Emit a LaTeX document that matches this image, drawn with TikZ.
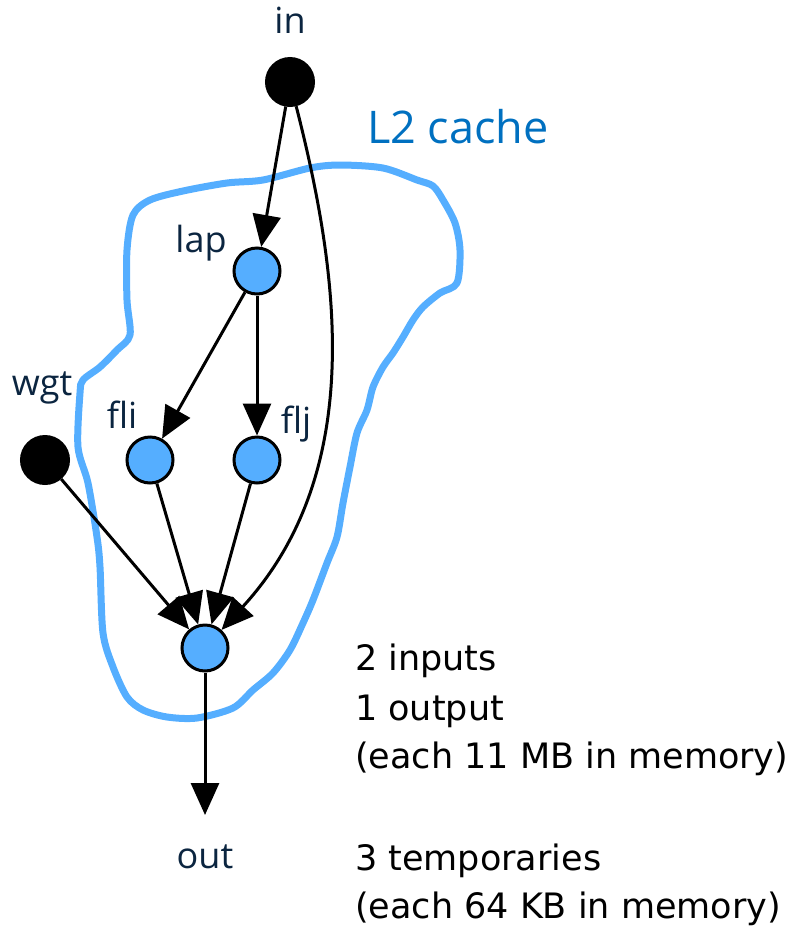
\documentclass[tikz,border=0pt]{standalone}
\usepackage{fontspec}
\setmainfont{Open Sans}
\newfontfamily\notefont{DejaVu Sans}
\usetikzlibrary{arrows.meta}
\definecolor{cacheblue}{HTML}{55AEFF}
\definecolor{nodeblue}{HTML}{55AEFF}
\definecolor{labelblue}{HTML}{0070C0}
\definecolor{navy}{HTML}{0B2540}
\tikzset{
  blacknode/.style={circle, fill=black, draw=black, line width=2pt, minimum size=48pt, inner sep=0pt},
  bluenode/.style={circle, fill=nodeblue, draw=black, line width=3pt, minimum size=46pt, inner sep=0pt},
  lbl/.style={text=navy, font=\fontsize{36}{43}\selectfont, anchor=base, inner sep=0pt},
  note/.style={text=black, font=\notefont\fontsize{35}{42}\selectfont, anchor=base west, inner sep=0pt},
  edge/.style={draw=black, line width=3pt, -{Triangle[length=32pt,width=28pt]}},
  cache/.style={draw=cacheblue, line width=7pt, line join=round}
}
\begin{document}
\begin{tikzpicture}[x=1pt,y=-1pt]
\useasboundingbox (0,0) rectangle (804,930);
% cache outline
\draw[cache] plot[smooth cycle, tension=0.5] coordinates {
(150,200) (183,191) (227,183) (263,180) (310,168) (340,165) (383,168) (417,180)
(433,186) (443,200) (455,223) (460,250) (457,283) (440,293) (423,307) (413,320)
(403,337) (393,353) (383,367) (373,387) (367,410) (357,433) (350,467) (343,503)
(337,537) (327,563) (313,600) (303,623) (290,650) (273,673) (253,690) (233,708)
(197,718) (167,717) (143,710) (127,697) (113,667) (103,633) (100,567) (97,537)
(88,483) (78,447) (80,393) (83,380) (100,367) (117,350) (130,335) (127,300)
(127,250) (133,215)};
% nodes
\node[blacknode] (in) at (290,82) {};
\node[bluenode] (lap) at (257,271) {};
\node[bluenode] (fli) at (150,460) {};
\node[bluenode] (flj) at (257,460) {};
\node[blacknode] (wgt) at (45,460) {};
\node[bluenode] (res) at (205,648) {};
\coordinate (outtip) at (205,815);
% labels
\node[lbl] (tin) at (290,33) {in};
\node[lbl] (tlap) at (201,252) {lap};
\node[lbl] (tfli) at (122,428) {fli};
\node[lbl] (tflj) at (296,433) {flj};
\node[lbl] (twgt) at (42,395) {wgt};
\node[lbl] (tout) at (205,868) {out};
\node[text=labelblue, font=\fontsize{45}{54}\selectfont, anchor=base west, inner sep=0pt] (tcache) at (367,143) {L2 cache};
% notes
\node[note] (n1) at (355,670) {2 inputs};
\node[note] (n2) at (355,720) {1 output};
\node[note] (n3) at (355,768) {(each 11 MB in memory)};
\node[note] (n4) at (355,870) {3 temporaries};
\node[note] (n5) at (355,918) {(each 64 KB in memory)};
% edges
\draw[edge] (in) -- (lap);
\draw[edge] (in) .. controls (338,270) and (368,470) .. (res);
\draw[edge] (lap) -- (fli);
\draw[edge] (lap) -- (flj);
\draw[edge] (wgt) -- (res);
\draw[edge] (fli) -- (res);
\draw[edge] (flj) -- (res);
\draw[edge] (res) -- (outtip);
\end{tikzpicture}
\end{document}
